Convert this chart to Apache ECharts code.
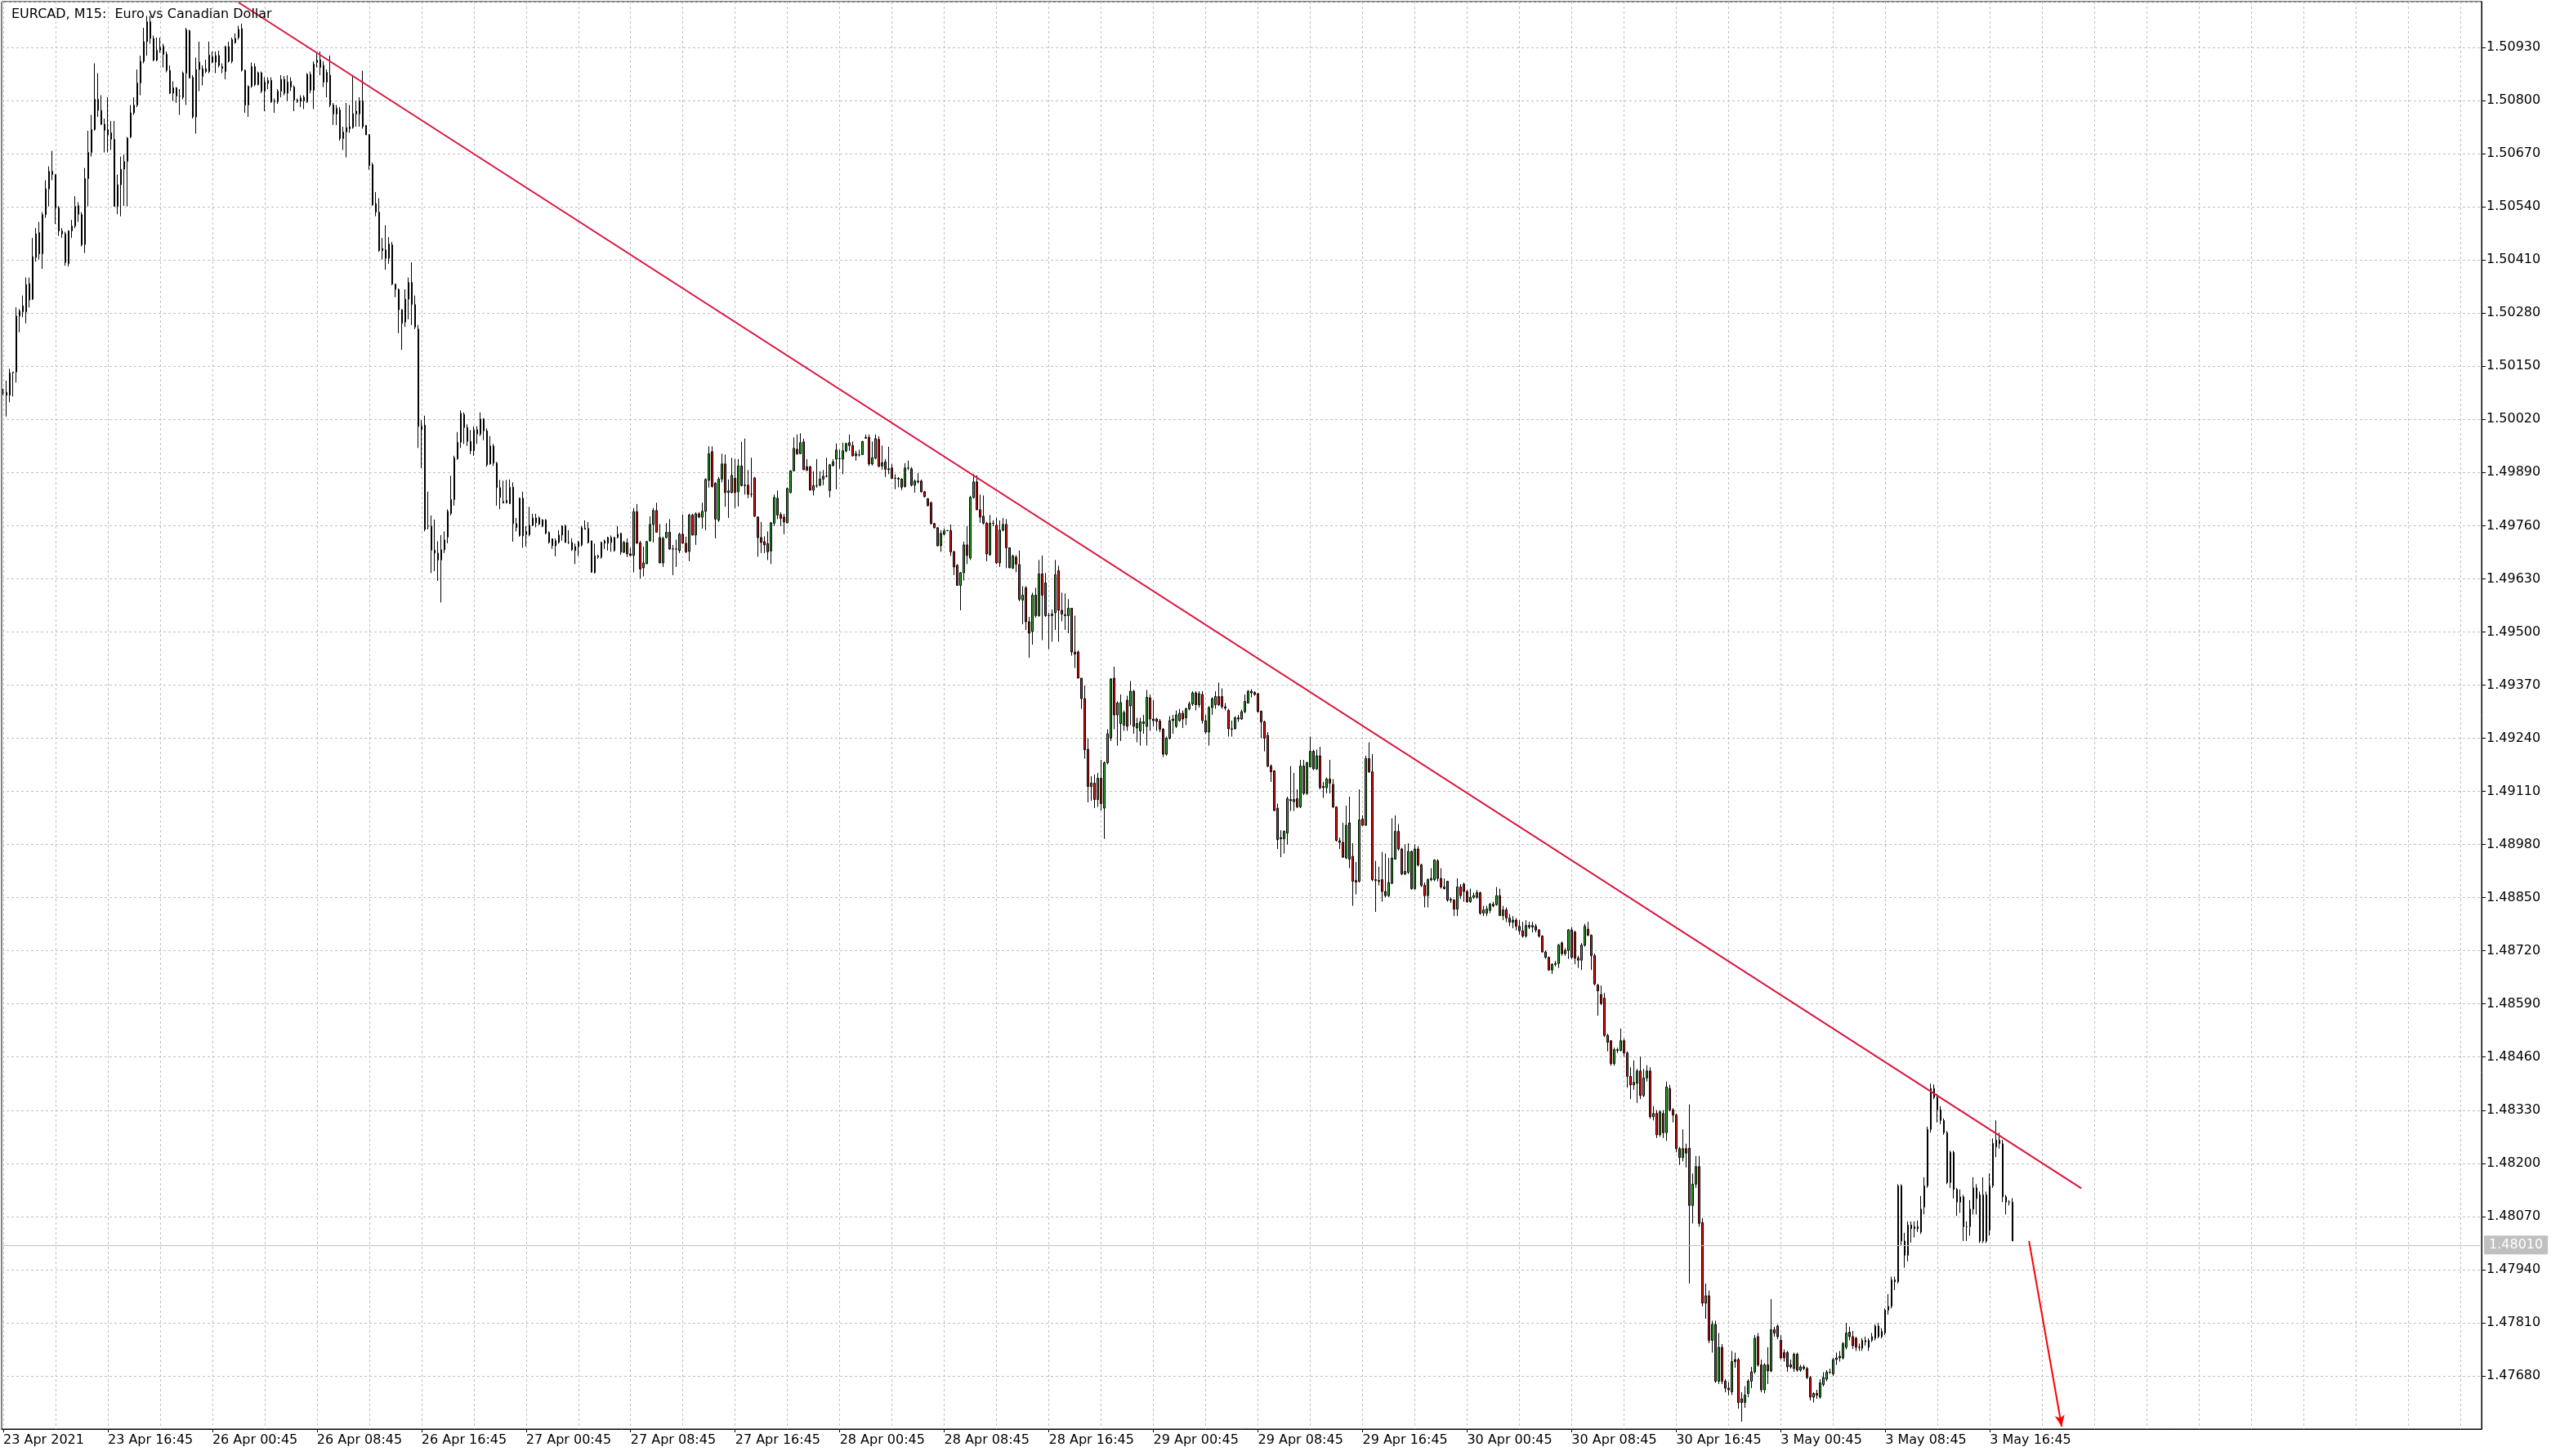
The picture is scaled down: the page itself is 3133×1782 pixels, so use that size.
<!DOCTYPE html>
<html><head><meta charset="utf-8">
<script src="https://cdn.jsdelivr.net/npm/echarts@6/dist/echarts.min.js"></script>
<style>html,body{margin:0;padding:0;background:#fff}#c{width:3133px;height:1782px}</style>
</head><body><div id="c"></div>
<script>
// Prices are stored as points (0.00001) above BASE: [open, close, low, high]
const BASE = 1.47;
const bars23Apr = [
[3086,3086,3080,3095],[3086,3079,3027,3115],[3079,3134,3062,3144],[3134,3136,3076,3136],[3136,3273,3110,3294],[3273,3285,3233,3290],[3298,3283,3270,3323],[3283,3350,3255,3367],[3352,3312,3294,3367],[3314,3418,3312,3464],
[3416,3474,3406,3488],[3477,3425,3411,3503],[3425,3521,3388,3527],[3521,3584,3513,3605],[3584,3627,3541,3639],[3627,3619,3605,3677],[3619,3538,3498,3619],[3538,3481,3469,3542],[3481,3474,3464,3488],[3474,3404,3396,3479],
[3401,3481,3394,3483],[3481,3493,3464,3508],[3493,3541,3488,3566],[3543,3522,3503,3551],[3521,3447,3443,3527],[3448,3609,3427,3635],[3609,3673,3541,3726],[3673,3729,3663,3765],[3729,3803,3726,3891],[3803,3776,3760,3867],
[3776,3742,3740,3813],[3742,3727,3673,3756],[3716,3729,3673,3808],[3721,3705,3679,3750],[3705,3541,3541,3750],[3541,3594,3522,3619],[3594,3632,3517,3663],[3632,3651,3542,3668],[3651,3708,3541,3711],[3711,3770,3708,3789],
[3770,3789,3765,3808],[3789,3843,3784,3876],[3843,3896,3813,3910],[3896,3944,3891,3978],[3944,3993,3910,4007],[3993,3952,3939,4007],[3952,3899,3896,3959],[3899,3923,3896,3954],[3923,3930,3917,3954],[3933,3913,3881,3939],
[3913,3874,3869,3920],[3874,3818,3816,3886],[3818,3831,3799,3847],[3831,3811,3794,3833],[3811,3811,3765,3828],[3808,3867,3803,3871],[3867,3973,3789,3978],[3971,3855,3855,3973],[3857,3760,3756,3862],[3760,3876,3719,3905],
[3876,3894,3823,3944]
];
const bars26Apr = [
[3859,3878,3837,3886],[3878,3871,3867,3900],[3871,3911,3867,3944],[3907,3894,3891,3920],[3894,3910,3867,3920],[3910,3886,3881,3922],[3883,3879,3867,3891],[3871,3932,3852,3934],[3932,3896,3893,3944],[3896,3949,3891,3954],
[3942,3952,3939,3964],[3954,3974,3949,3983],[3976,3874,3871,3988],[3874,3789,3770,3876],[3789,3835,3760,3837],[3835,3883,3831,3893],[3883,3839,3835,3891],[3839,3868,3837,3871],[3868,3823,3818,3871],[3823,3845,3774,3857],
[3842,3849,3828,3857],[3849,3797,3794,3857],[3797,3799,3770,3805],[3797,3823,3792,3828],[3823,3852,3808,3862],[3852,3818,3813,3860],[3818,3845,3799,3862],[3847,3833,3823,3857],[3833,3801,3774,3837],[3801,3798,3794,3805],
[3798,3806,3784,3813],[3808,3799,3779,3813],[3797,3864,3794,3867],[3864,3825,3818,3871],[3825,3889,3779,3896],[3893,3899,3881,3915],[3900,3881,3862,3920],[3886,3845,3833,3896],[3845,3869,3808,3876],[3862,3789,3784,3910],
[3789,3767,3740,3794],[3767,3781,3740,3789],[3777,3707,3702,3784],[3707,3723,3679,3736],[3723,3734,3661,3794],[3731,3736,3721,3789],[3734,3768,3731,3862],[3774,3767,3736,3799],[3767,3799,3736,3808],[3799,3736,3731,3873],
[3739,3716,3716,3740],[3716,3641,3631,3718],[3643,3545,3542,3648],[3548,3527,3517,3576],[3527,3433,3430,3561],[3438,3433,3411,3464],[3414,3435,3386,3495],[3414,3449,3401,3466],[3447,3351,3348,3454],[3351,3338,3319,3352],
[3338,3288,3231,3340],[3288,3255,3190,3290],[3258,3314,3246,3338],[3314,3355,3265,3367],[3355,3301,3251,3404],[3301,3246,3241,3323],[3241,3003,2950,3251],[2995,3003,2901,3018],[3006,2751,2746,3029],[2759,2759,2751,2843],
[2759,2700,2644,2785],[2700,2693,2649,2775],[2693,2676,2625,2722],[2676,2701,2572,2737],[2701,2725,2693,2746],[2732,2795,2717,2800],[2790,2824,2785,2882],[2824,2926,2809,2931],[2924,2964,2921,2989],[2964,3035,2950,3042],
[3032,3000,2960,3037],[3000,2966,2955,3008],[2966,2943,2935,2994],[2943,2994,2931,3003],[2995,2984,2960,3003],[2984,3021,2979,3037],[3021,2992,2969,3023],[2992,2909,2904,2998],[2911,2955,2909,2979],[2955,2913,2906,2960],
[2913,2853,2809,2916],[2853,2829,2800,2872],[2819,2816,2814,2870],[2816,2822,2814,2872],[2814,2854,2813,2873],[2854,2765,2721,2866]
];
const bars27Apr = [
[2765,2755,2746,2779],[2736,2827,2733,2829],[2827,2735,2706,2843],[2746,2738,2709,2759],[2738,2761,2734,2806],[2761,2779,2759,2789],[2779,2767,2756,2789],[2764,2779,2761,2783],[2774,2759,2756,2776],[2774,2741,2739,2776],
[2743,2719,2716,2746],[2711,2728,2703,2729],[2723,2711,2685,2729],[2719,2737,2716,2749],[2737,2759,2723,2761],[2759,2719,2718,2763],[2719,2719,2715,2749],[2719,2701,2698,2729],[2699,2709,2666,2716],[2709,2719,2686,2723],
[2713,2755,2709,2759],[2754,2751,2751,2773],[2753,2719,2716,2769],[2723,2646,2645,2723],[2645,2686,2643,2716],[2686,2683,2679,2689],[2683,2719,2679,2721],[2717,2723,2703,2726],[2717,2731,2699,2733],[2731,2719,2696,2736],
[2699,2731,2696,2733],[2731,2739,2729,2759],[2741,2695,2689,2743],[2695,2719,2693,2723],[2718,2691,2683,2729],[2691,2687,2686,2706],[2687,2794,2646,2803],[2794,2717,2716,2813],[2718,2654,2631,2723],[2657,2669,2636,2709],
[2667,2721,2666,2723],[2723,2763,2721,2783],[2763,2797,2719,2803],[2797,2744,2743,2816],[2731,2669,2668,2764],[2669,2729,2659,2733],[2731,2744,2729,2766],[2744,2703,2701,2776],[2703,2703,2639,2713],[2703,2703,2659,2726],
[2699,2739,2693,2743],[2739,2717,2716,2787],[2717,2696,2693,2733],[2697,2786,2673,2789],[2786,2737,2736,2789],[2737,2789,2713,2793],[2789,2781,2779,2793],[2781,2795,2753,2816],[2795,2873,2749,2876],[2871,2936,2853,2954],
[2941,2856,2853,2954],[2864,2776,2729,2866],[2774,2874,2769,2879],[2874,2911,2866,2936],[2911,2841,2806,2934],[2841,2845,2779,2873],[2841,2883,2839,2926],[2876,2841,2803,2923],[2843,2906,2807,2923],[2906,2858,2856,2965],
[2858,2859,2836,2973],[2859,2837,2827,2896],[2837,2837,2829,2926],[2877,2783,2781,2879],[2781,2731,2684,2783],[2731,2719,2693,2769],[2721,2713,2693,2734],[2716,2696,2676,2746],[2698,2767,2666,2769],[2766,2829,2759,2836],
[2827,2786,2776,2846],[2787,2778,2759,2793],[2781,2769,2739,2789],[2767,2851,2766,2853],[2841,2894,2839,2896],[2894,2949,2893,2976],[2947,2936,2933,2983],[2936,2963,2936,2986],[2965,2897,2896,2973],[2904,2896,2893,2923],
[2904,2847,2846,2906],[2847,2858,2834,2893],[2858,2858,2853,2923],[2859,2874,2856,2893],[2874,2881,2859,2896],[2881,2881,2878,2926]
];
const bars28Apr = [
[2846,2909,2829,2911],[2907,2916,2905,2923],[2923,2945,2849,2961],[2924,2924,2899,2946],[2923,2943,2886,2963],[2943,2961,2939,2963],[2963,2956,2943,2983],[2956,2931,2929,2966],[2931,2936,2919,2943],[2933,2933,2929,2946],
[2934,2966,2933,2967],[2974,2976,2973,2983],[2976,2911,2906,2983],[2911,2926,2907,2966],[2925,2973,2923,2983],[2971,2905,2903,2979],[2906,2914,2897,2956],[2916,2898,2879,2923],[2899,2897,2886,2953],[2901,2876,2874,2911],
[2876,2876,2849,2886],[2876,2874,2854,2879],[2874,2854,2847,2876],[2856,2901,2853,2913],[2901,2901,2896,2919],[2899,2859,2856,2903],[2859,2869,2841,2873],[2867,2869,2863,2889],[2869,2843,2841,2873],[2843,2831,2829,2845],
[2826,2809,2807,2827],[2816,2765,2763,2819],[2765,2755,2753,2767],[2755,2711,2709,2756],[2711,2741,2696,2749],[2739,2747,2736,2753],[2748,2748,2746,2749],[2748,2696,2686,2763],[2696,2659,2639,2699],[2663,2614,2613,2666],
[2614,2645,2553,2646],[2645,2713,2626,2721],[2713,2687,2666,2759],[2681,2829,2676,2833],[2829,2867,2826,2886],[2867,2799,2798,2883],[2799,2781,2767,2836],[2783,2766,2763,2834],[2766,2691,2673,2769],[2689,2766,2686,2786],
[2766,2766,2759,2773],[2761,2669,2666,2779],[2669,2749,2659,2773],[2749,2763,2746,2779],[2763,2706,2656,2776],[2706,2657,2656,2707],[2656,2686,2654,2689],[2683,2666,2646,2688],[2665,2580,2575,2699],[2578,2590,2519,2612],
[2608,2525,2505,2612],[2525,2497,2437,2537],[2501,2590,2469,2596],[2590,2540,2535,2608],[2540,2642,2537,2676],[2642,2590,2480,2687],[2620,2540,2537,2644],[2540,2540,2458,2547],[2540,2544,2476,2555],[2547,2640,2505,2676],
[2650,2553,2476,2662],[2553,2544,2526,2596],[2542,2540,2505,2594],[2540,2558,2497,2580],[2558,2451,2442,2558],[2451,2446,2412,2540],[2451,2387,2387,2455],[2387,2337,2312,2387],[2337,2212,2190,2369],[2213,2122,2083,2240],
[2122,2130,2087,2147],[2130,2090,2069,2151],[2090,2142,2072,2155],[2142,2080,2063,2187],[2069,2180,1994,2183],[2180,2251,2176,2262],[2240,2385,2233,2387],[2387,2297,2262,2415],[2297,2326,2222,2330],[2276,2327,2233,2347],
[2272,2303,2258,2308],[2333,2269,2258,2344],[2319,2355,2272,2380],[2355,2269,2251,2358],[2265,2276,2230,2290],[2258,2280,2222,2290]
];
const bars29Apr = [
[2280,2276,2251,2297],[2269,2340,2222,2358],[2339,2287,2258,2347],[2287,2283,2269,2333],[2287,2281,2258,2290],[2282,2262,2255,2287],[2262,2201,2194,2265],[2201,2240,2197,2244],[2240,2283,2237,2294],[2283,2287,2251,2297],
[2269,2297,2265,2308],[2283,2301,2280,2312],[2301,2287,2265,2308],[2290,2312,2272,2315],[2312,2324,2308,2330],[2324,2351,2319,2355],[2351,2322,2308,2355],[2322,2349,2315,2355],[2347,2283,2276,2355],[2283,2255,2251,2297],
[2255,2315,2222,2319],[2315,2337,2297,2340],[2322,2342,2312,2355],[2342,2322,2319,2376],[2342,2317,2312,2362],[2317,2314,2308,2326],[2308,2263,2244,2312],[2263,2262,2244,2283],[2263,2290,2262,2294],[2290,2287,2280,2297],
[2287,2305,2285,2310],[2305,2330,2301,2347],[2326,2355,2326,2358],[2355,2351,2340,2360],[2352,2347,2344,2355],[2349,2305,2303,2351],[2306,2280,2240,2308],[2280,2240,2208,2283],[2247,2172,2169,2255],[2172,2158,2133,2176],
[2160,2063,2062,2162],[2069,1992,1969,2080],[1994,1997,1949,2015],[1994,2012,1958,2015],[2008,2092,1980,2097],[2090,2087,2062,2172],[2085,2090,2062,2155],[2092,2072,2069,2115],[2072,2172,2069,2187],[2172,2105,2101,2187],
[2105,2180,2101,2183],[2170,2208,2169,2244],[2208,2165,2162,2212],[2165,2197,2162,2212],[2197,2119,2115,2219],[2119,2122,2094,2133],[2119,2140,2105,2144],[2140,2130,2105,2187],[2127,2072,2069,2140],[2072,1990,1987,2072],
[1989,1985,1969,1997],[1985,1949,1947,2033],[1947,2027,1944,2075],[2033,1944,1922,2097],[1951,1890,1830,1983],[1892,1888,1858,1937],[1890,2040,1887,2115],[2042,2027,2026,2051],[2027,2190,2026,2197],[2190,2158,2155,2230],
[2158,1894,1890,2201],[1894,1892,1815,1940],[1892,1890,1880,1926],[1894,1865,1840,1962],[1865,1855,1851,1958],[1855,1887,1851,1947],[1885,1947,1883,2044],[1944,2012,1944,2051],[2012,1969,1965,2030],[1969,1908,1905,1972],
[1908,1914,1905,1980],[1912,1963,1908,1983],[1963,1872,1869,1965],[1872,1969,1869,1980],[1969,1930,1926,1976],[1930,1880,1876,1933],[1880,1855,1826,1887],[1855,1894,1826,1897],[1894,1897,1890,1922],[1894,1942,1890,1944],
[1940,1897,1890,1944],[1897,1876,1872,1922],[1876,1872,1870,1897],[1890,1844,1840,1890],[1846,1844,1837,1851],[1844,1822,1805,1847]
];
const bars30Apr = [
[1822,1876,1805,1897],[1876,1855,1847,1883],[1883,1865,1840,1887],[1865,1840,1837,1869],[1840,1851,1837,1872],[1851,1855,1847,1862],[1851,1862,1847,1869],[1862,1812,1808,1865],[1812,1820,1805,1830],[1812,1822,1805,1830],
[1819,1834,1812,1837],[1834,1830,1826,1840],[1833,1855,1830,1876],[1855,1806,1806,1872],[1806,1820,1795,1830],[1820,1800,1790,1826],[1800,1790,1780,1810],[1790,1795,1775,1805],[1795,1780,1770,1800],[1780,1769,1760,1795],
[1769,1756,1752,1791],[1756,1782,1752,1795],[1782,1778,1773,1791],[1778,1782,1765,1791],[1780,1771,1765,1786],[1771,1756,1752,1773],[1756,1717,1717,1758],[1717,1704,1700,1721],[1704,1673,1671,1706],[1673,1687,1663,1689],
[1687,1689,1682,1695],[1689,1734,1678,1737],[1739,1713,1708,1743],[1713,1721,1708,1726],[1721,1771,1700,1773],[1771,1704,1700,1778],[1766,1702,1687,1769],[1702,1697,1678,1708],[1697,1734,1673,1739],[1734,1780,1730,1786],
[1773,1758,1756,1791],[1758,1708,1673,1760],[1708,1639,1635,1713],[1636,1622,1561,1639],[1613,1591,1587,1635],[1604,1513,1509,1617],[1513,1496,1474,1517],[1500,1444,1439,1500],[1444,1478,1439,1483],[1478,1476,1470,1483],
[1476,1500,1474,1530],[1500,1470,1461,1505],[1470,1413,1385,1474],[1413,1392,1357,1435],[1392,1398,1380,1452],[1396,1426,1348,1431],[1426,1366,1357,1461],[1366,1409,1362,1431],[1409,1426,1400,1440],[1426,1314,1309,1435],
[1314,1322,1305,1340],[1322,1270,1262,1330],[1270,1326,1265,1330],[1322,1275,1262,1330],[1275,1387,1255,1400],[1383,1331,1327,1392],[1331,1318,1300,1335],[1318,1236,1227,1322],[1236,1214,1196,1240],[1214,1236,1205,1283],
[1236,1225,1190,1248],[1237,1097,906,1344],[1097,1149,1053,1175],[1149,1192,1140,1218],[1192,1053,1045,1218],[1055,858,850,1066],[858,876,820,906],[876,767,760,889],[767,806,737,815],[806,667,663,815],
[667,750,660,785],[750,667,660,758],[667,650,640,672],[650,646,633,665],[641,715,633,741],[720,715,700,737],[720,615,600,724],[624,615,568,640],[615,633,602,655],[637,667,628,672],
[667,690,650,702],[690,772,685,780],[776,707,702,785],[707,646,640,720],[646,707,637,711],[707,692,660,750]
];
const bars3May = [
[692,793,689,868],[793,785,776,800],[802,776,770,806],[767,724,720,780],[737,724,715,745],[737,702,690,741],[707,702,698,720],[698,733,690,737],[733,694,690,737],[694,702,690,707],
[702,698,694,707],[698,676,672,702],[676,628,620,680],[628,637,615,640],[637,633,624,646],[628,663,624,672],[659,676,654,689],[672,689,667,694],[689,689,685,698],[685,720,680,724],
[720,724,707,737],[724,728,715,741],[724,759,720,763],[750,785,745,810],[787,776,767,800],[776,754,746,790],[772,750,741,776],[750,750,741,759],[748,767,741,772],[767,763,754,776],
[750,767,741,772],[767,776,763,785],[772,802,767,806],[802,776,772,810],[776,789,772,797],[785,841,780,845],[841,850,830,880],[850,915,845,923],[915,910,890,923],[910,1145,906,1149],
[1145,1010,1000,1149],[1010,975,945,1030],[975,1049,960,1058],[1049,1040,1006,1058],[1040,1045,1019,1058],[1045,1040,1032,1060],[1032,1088,1027,1120],[1093,1145,1075,1166],[1145,1283,1140,1290],[1283,1383,1275,1395],
[1383,1361,1357,1393],[1361,1331,1300,1370],[1331,1305,1296,1340],[1305,1275,1270,1310],[1275,1153,1149,1279],[1153,1227,1140,1231],[1227,1136,1114,1231],[1136,1105,1071,1140],[1105,1118,1079,1136],[1118,1045,1010,1123],
[1045,1045,1010,1058],[1045,1088,1023,1110],[1088,1140,1075,1166],[1140,1114,1075,1149],[1123,1010,1005,1131],[1010,1123,1005,1166],[1123,1010,1005,1131],[1036,1145,1023,1175],[1145,1249,1140,1261],[1240,1257,1215,1305],
[1257,1248,1236,1275],[1248,1118,1105,1257],[1118,1105,1075,1123],[1105,1105,1097,1110],[1105,1010,1010,1115]
];

const xTickLabels = ['23 Apr 2021','23 Apr 16:45','26 Apr 00:45','26 Apr 08:45','26 Apr 16:45','27 Apr 00:45','27 Apr 08:45','27 Apr 16:45','28 Apr 00:45','28 Apr 08:45','28 Apr 16:45','29 Apr 00:45','29 Apr 08:45','29 Apr 16:45','30 Apr 00:45','30 Apr 08:45','30 Apr 16:45','3 May 00:45','3 May 08:45','3 May 16:45'];
const BARS_PER_LABEL = 32;
const BARS_PER_GRID = 16;
const TOTAL_SLOTS = 759;
const yMin = 1.4755, yMax = 1.51042, yStep = 0.0013;
const titleText = 'EURCAD, M15:  Euro vs Canadian Dollar';
const lastPrice = 1.48010;
const trendLine = [[72, 1.51040], [636, 1.48139]];
const arrowLine = [[620, 1.48010], [630, 1.47556]];

const rows = [].concat(bars23Apr, bars26Apr, bars27Apr, bars28Apr, bars29Apr, bars30Apr, bars3May);
const candles = rows.map(r => r.map(v => +(BASE + v / 1e5).toFixed(5)));
const categories = [];
for (let i = 0; i < TOTAL_SLOTS; i++) categories.push('b' + i);

const FONT = 'DejaVu Sans';
const labelIdx = i => i % BARS_PER_LABEL === 0 && (i / BARS_PER_LABEL) < xTickLabels.length;

const chart = echarts.init(document.getElementById('c'), null, {renderer: 'canvas'});
chart.setOption({
  animation: false,
  backgroundColor: '#ffffff',
  title: {text: titleText, left: 9, top: 5, textStyle: {fontSize: 16, fontWeight: 'normal', color: '#000', fontFamily: FONT}},
  grid: {left: 2, right: 96, top: 2, bottom: 33, show: true, borderColor: '#000', borderWidth: 1, backgroundColor: '#fff'},
  xAxis: {
    type: 'category', data: categories, boundaryGap: true,
    axisLine: {show: true, lineStyle: {color: '#000', width: 1}},
    axisTick: {show: true, alignWithLabel: true, length: 4, interval: labelIdx, lineStyle: {color: '#000'}},
    axisLabel: {interval: labelIdx, formatter: (v, i) => xTickLabels[i / BARS_PER_LABEL] || '', align: 'left', margin: 6,
      color: '#000', fontSize: 16, fontFamily: FONT},
    splitLine: {show: true, alignWithLabel: true, interval: i => i % BARS_PER_GRID === 0,
      lineStyle: {color: '#C0C0C0', width: 1, type: [3, 3]}}
  },
  yAxis: {
    type: 'value', position: 'right', min: yMin, max: yMax, interval: yStep,
    axisLine: {show: true, lineStyle: {color: '#000', width: 1}},
    axisTick: {show: true, length: 5, lineStyle: {color: '#000'}},
    axisLabel: {color: '#000', fontSize: 16, fontFamily: FONT, margin: 6, showMinLabel: false, showMaxLabel: false,
      formatter: v => v.toFixed(5)},
    splitLine: {show: true, lineStyle: {color: '#C0C0C0', width: 1, type: [3, 3]}}
  },
  series: [{
    type: 'candlestick', data: candles, large: false, progressive: 0, barWidth: 2,
    itemStyle: {color: '#2CB42C', color0: '#F01414', borderColor: '#000', borderColor0: '#000', borderColorDoji: '#000', borderWidth: 1},
    markLine: {
      silent: true, animation: false, symbol: ['none', 'none'],
      label: {show: false},
      data: [
        {yAxis: lastPrice, lineStyle: {color: '#C0C0C0', width: 1, type: 'solid'},
         label: {show: true, position: 'end', distance: 3, formatter: lastPrice.toFixed(5), color: '#fff',
           backgroundColor: '#C0C0C0', padding: [4, 6, 3, 6], fontSize: 16, fontFamily: FONT}},
        [{coord: trendLine[0], lineStyle: {color: '#DC143C', width: 2, type: 'solid'}},
         {coord: trendLine[1], lineStyle: {color: '#DC143C', width: 2, type: 'solid'}}],
        [{coord: arrowLine[0], lineStyle: {color: '#FF0000', width: 2, type: 'solid'}},
         {coord: arrowLine[1], symbol: 'arrow', symbolSize: [9, 14], lineStyle: {color: '#FF0000', width: 2, type: 'solid'}}]
      ]
    }
  }]
});
</script></body></html>
